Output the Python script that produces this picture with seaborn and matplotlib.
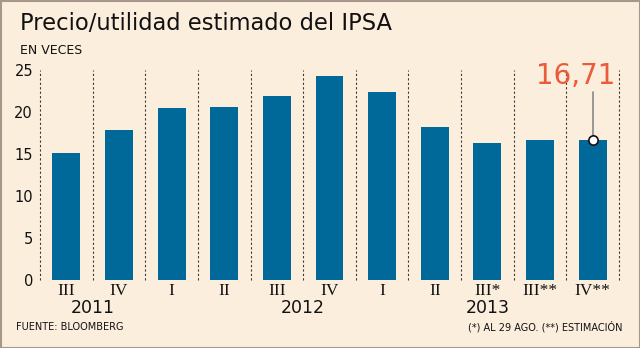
import matplotlib
matplotlib.use("Agg")
import matplotlib.pyplot as plt
import seaborn as sns
import pandas as pd

quarters = ["III", "IV", "I", "II", "III", "IV", "I", "II", "III*", "III**", "IV**"]
values = [15.1, 17.9, 20.5, 20.7, 22.0, 24.3, 22.4, 18.2, 16.3, 16.7, 16.71]
years = ["2011", "2012", "2013"]
year_pos = [0.5, 4.5, 8.0]
yticks = [0, 5, 10, 15, 20, 25]

BG = "#FBEEDD"
BAR = "#00699A"
RED = "#EC5A3C"

sns.set_theme(style="white")
plt.rcParams['font.family'] = ['DejaVu Sans']

df = pd.DataFrame({"pos": [str(i) for i in range(len(values))], "val": values})

fig = plt.figure(figsize=(6.4, 3.48), dpi=100)
fig.patch.set_facecolor(BG)
ax = fig.add_axes([40/640, 1-280/348, 579/640, 209.5/348])
ax.set_facecolor(BG)

sns.barplot(data=df, x="pos", y="val", color=BAR, width=0.53, ax=ax, saturation=1)
for p in ax.patches:
    p.set_edgecolor("none")

ax.set_xlim(-0.5, len(values) - 0.5)
ax.set_ylim(0, 25)
ax.vlines([i - 0.5 for i in range(len(values) + 1)], 0, 25, colors="#3a3a3a",
          linestyles=(0, (2, 2)), linewidth=0.8, zorder=0, clip_on=False)

for s in ax.spines.values():
    s.set_visible(False)
ax.set_xlabel("")
ax.set_ylabel("")
ax.set_yticks(yticks)
ax.set_yticklabels([str(v) for v in yticks], fontsize=10.5, color="#111111")
ax.tick_params(axis="y", length=0, pad=5)
ax.set_xticks(range(len(quarters)))
ax.set_xticklabels(quarters, fontsize=12.5, family="Liberation Serif", color="#111111")
ax.tick_params(axis="x", length=0, pad=2)

for y, pos in zip(years, year_pos):
    ax.annotate(y, xy=(pos, 0), xycoords="data", xytext=(0, -20.5), textcoords="offset points",
                ha="center", va="center", fontsize=12.5, color="#111111")

# annotation for last value
last = len(values) - 1
ax.plot([last, last], [values[-1], 22.4], color="#888888", lw=1.2, zorder=3)
ax.scatter([last], [values[-1]], s=45, facecolor="white", edgecolor="#111111", linewidth=1.2, zorder=4)
ax.text(last - 0.33, 24.4, "16,71", color=RED, fontsize=20, ha="center", va="center")

fig.text(20/640, 1-24/348, "Precio/utilidad estimado del IPSA", fontsize=16.3, color="#111111", va="center", ha="left")
fig.text(20/640, 1-50/348, "EN VECES", fontsize=9, color="#111111", va="center", ha="left")
fig.text(16/640, 1-327/348, "FUENTE: BLOOMBERG", fontsize=7, color="#111111", va="center", ha="left")
fig.text(622/640, 1-327/348, "(*) AL 29 AGO. (**) ESTIMACIÓN", fontsize=7, color="#111111", va="center", ha="right")

border = plt.Rectangle((0.5/640, 0.5/348), 1 - 1/640, 1 - 1/348, transform=fig.transFigure,
                       fill=False, edgecolor="#A8968C", linewidth=1.5)
fig.patches.append(border)

fig.savefig("out.png", dpi=100, facecolor=BG)
